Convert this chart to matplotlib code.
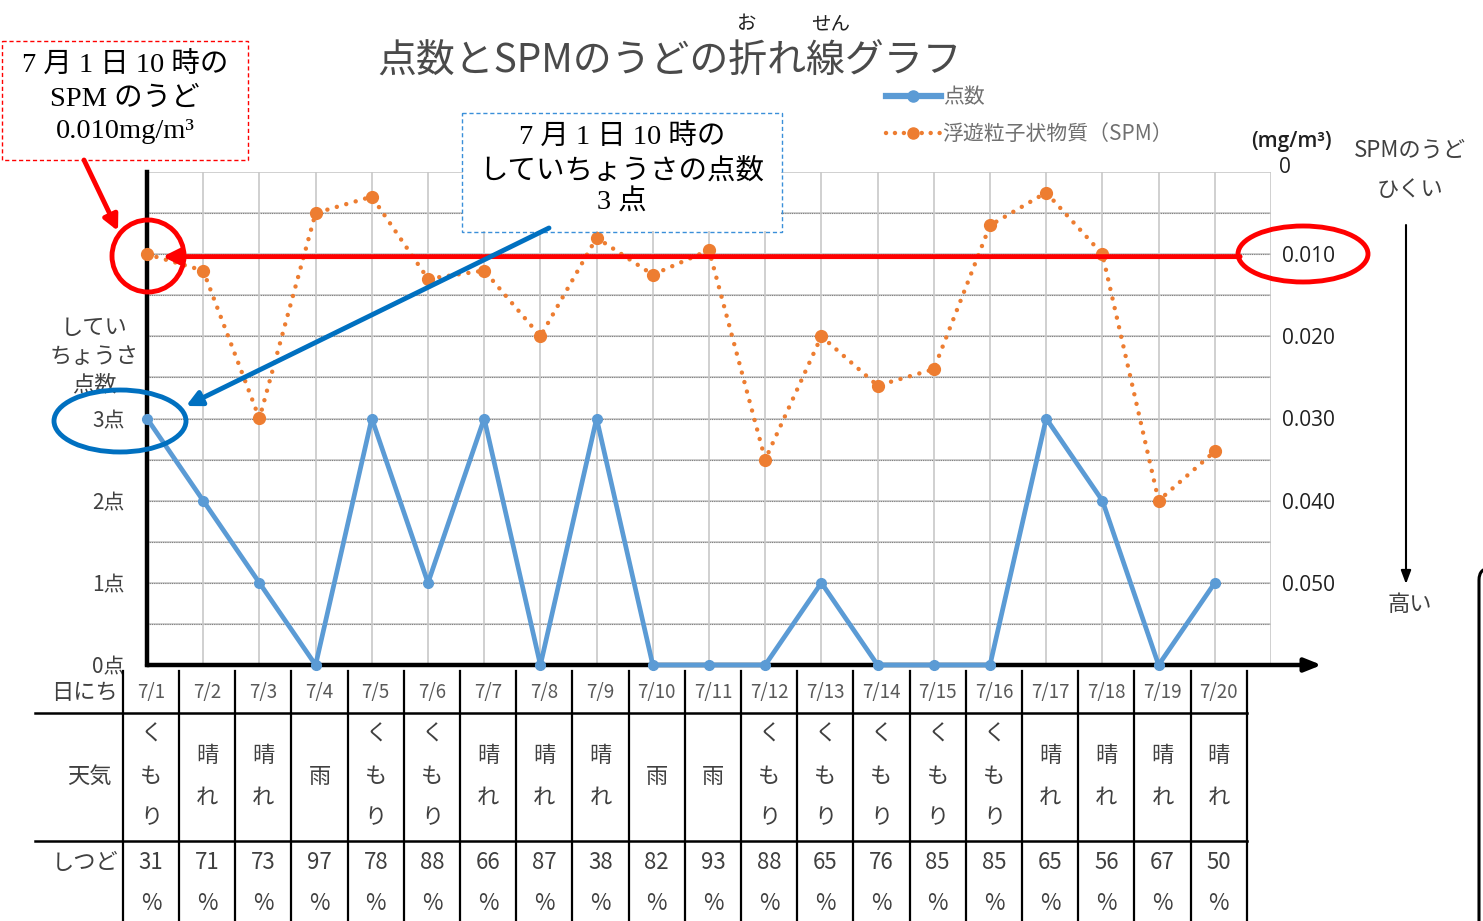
import matplotlib
matplotlib.use("Agg")
import matplotlib.pyplot as plt
from matplotlib.patches import Ellipse, FancyBboxPatch, Rectangle
from matplotlib.transforms import blended_transform_factory
from matplotlib.lines import Line2D

plt.rcParams['font.family'] = ['Noto Sans CJK JP', 'DejaVu Sans']

# ---- data ----
dates = ["7/1", "7/2", "7/3", "7/4", "7/5", "7/6", "7/7", "7/8", "7/9", "7/10",
         "7/11", "7/12", "7/13", "7/14", "7/15", "7/16", "7/17", "7/18", "7/19", "7/20"]
scores = [3, 2, 1, 0, 3, 1, 3, 0, 3, 0, 0, 0, 1, 0, 0, 0, 3, 2, 0, 1]
spm = [0.010, 0.012, 0.030, 0.005, 0.003, 0.013, 0.012, 0.020, 0.008, 0.0125,
       0.0095, 0.035, 0.020, 0.026, 0.024, 0.0065, 0.0025, 0.010, 0.040, 0.034]
weather = ["くもり", "晴れ", "晴れ", "雨", "くもり", "くもり", "晴れ", "晴れ", "晴れ", "雨",
           "雨", "くもり", "くもり", "くもり", "くもり", "くもり", "晴れ", "晴れ", "晴れ", "晴れ"]
humidity = [31, 71, 73, 97, 78, 88, 66, 87, 38, 82, 93, 88, 65, 76, 85, 85, 65, 56, 67, 50]
score_ticks = [0, 1, 2, 3]
score_labels = ["0点", "1点", "2点", "3点"]
spm_ticks = [0.0, 0.010, 0.020, 0.030, 0.040, 0.050]
spm_labels = ["0", "0.010", "0.020", "0.030", "0.040", "0.050"]
title = "点数とSPMのうどの折れ線グラフ"

W, H = 1483, 921
fig = plt.figure(figsize=(W / 100, H / 100), dpi=100)

BLUE = "#5B9BD5"
ORANGE = "#ED7D31"
GRAY_TXT = "#404040"
SERIF = ['Liberation Serif', 'Noto Sans CJK JP']
LATIN = ['Open Sans', 'DejaVu Sans']

# overlay in pixel coordinates (origin top-left) for annotations and table
ov = fig.add_axes([0, 0, 1, 1])
ov.set_xlim(0, W)
ov.set_ylim(H, 0)
ov.axis('off')

# main chart area
L, R, T, B = 147, 1271, 172, 665
ax = fig.add_axes([L / W, (H - B) / H, (R - L) / W, (B - T) / H], zorder=2)
ax.patch.set_alpha(0)
n = len(dates)
xs = list(range(n))
ax.set_xlim(0, 20)
ax.set_ylim(0, 6)

# grid
for yv in [i * 0.5 for i in range(1, 13)]:
    ax.axhline(yv, color="#C8C8C8", lw=1.2, zorder=1)
for yv in [0.5 * i for i in range(1, 12)]:
    ax.axhline(yv, color="#808080", lw=0.8, ls=(0, (1, 1)), zorder=1)
for xv in range(1, 21):
    ax.axvline(xv, color="#C8C8C8", lw=1.2, zorder=1)

ax.set_xticks([])
ax.set_yticks(score_ticks)
ax.set_yticklabels(score_labels, fontsize=15, color=GRAY_TXT)
ax.tick_params(axis='y', length=0, pad=16)
for s in ['top', 'right', 'bottom']:
    ax.spines[s].set_visible(False)
ax.spines['left'].set_linewidth(3.2)
ax.spines['left'].set_color('black')

# x axis with arrow
ax.annotate("", xy=(20.9, 0), xytext=(0, 0), xycoords='data',
            arrowprops=dict(arrowstyle='-|>,head_length=1.0,head_width=0.4',
                            color='black', lw=3.2, shrinkA=0, shrinkB=0),
            annotation_clip=False, zorder=5)

# score line
ax.plot(xs, scores, color=BLUE, lw=3.4, marker='o', ms=7, zorder=6,
        label="点数", clip_on=False)

# SPM line on inverted right axis
ax2 = ax.twinx()
ax2.set_ylim(0.06, 0.0)
ax2.set_zorder(3)
ax2.patch.set_alpha(0)
for s in ['top', 'right', 'bottom', 'left']:
    ax2.spines[s].set_visible(False)
ax2.set_yticks(spm_ticks[1:])
ax2.set_yticklabels(spm_labels[1:], fontsize=15, color="#202020", family=LATIN)
ax2.tick_params(axis='y', length=0, pad=8)
ax2.plot(xs, spm, color=ORANGE, lw=3.2, ls=(0, (0.01, 2.2)),
         dash_capstyle='round', marker='o', ms=8.5, zorder=6,
         label="浮遊粒子状物質（SPM）", clip_on=False)
ax2.text(1.0 + 8 / (R - L), spm_ticks[0] - 0.0005, spm_labels[0],
         transform=blended_transform_factory(ax2.transAxes, ax2.transData),
         ha='left', va='center', fontsize=15, color="#202020", family=LATIN)
ov.text(1291, 142, "(mg/m³)", fontsize=15, color="#202020", ha='center', va='center',
        family=LATIN, fontweight='semibold')

# reference line at 0.010 with arrow toward the first point
ax2.annotate("", xy=(0.28, 0.0103), xytext=(19.45, 0.0103),
             arrowprops=dict(arrowstyle='-|>,head_length=0.9,head_width=0.45',
                             color='#FF0000', lw=3.5, shrinkA=0, shrinkB=0),
             annotation_clip=False, zorder=8)

# legend
h1 = Line2D([], [], color=BLUE, lw=4.5, marker='o', ms=8)
h2 = Line2D([], [], color=ORANGE, lw=3.2, ls=(0, (0.01, 2.0)), dash_capstyle='round',
            marker='o', ms=8)
fig.legend([h1, h2], ["点数", "浮遊粒子状物質（SPM）"], loc='upper left',
           bbox_to_anchor=(878 / W, 1 - 78 / H), frameon=False, fontsize=15,
           labelcolor="#707070", handlelength=2.6, handletextpad=0.1,
           labelspacing=0.7, borderaxespad=0)

# title with ruby
ov.text(670, 62, title, fontsize=28, color="#4a4a4a", ha='center', va='center')
ov.text(747, 24, "お", fontsize=14, color="#202020", ha='center', va='center')
ov.text(831, 24, "せん", fontsize=14, color="#202020", ha='center', va='center')

# left axis caption
for txt, yy in [("してい", 327), ("ちょうさ", 356), ("点数", 385)]:
    ov.text(94, yy, txt, fontsize=16, color=GRAY_TXT, ha='center', va='center')

# right side direction note
ov.text(1410, 150, "SPMのうど", fontsize=16, color=GRAY_TXT, ha='center', va='center')
ov.text(1410, 190, "ひくい", fontsize=16, color=GRAY_TXT, ha='center', va='center')
ov.annotate("", xy=(1406, 584), xytext=(1406, 225),
            arrowprops=dict(arrowstyle='-|>,head_length=0.8,head_width=0.3',
                            color='black', lw=1.5, shrinkA=0, shrinkB=0))
ov.text(1410, 604, "高い", fontsize=16, color=GRAY_TXT, ha='center', va='center')

# overlay annotations sit above the chart
ov.set_zorder(4)
ov.patch.set_alpha(0)

# red callout
ov.add_patch(Rectangle((2, 41), 246, 119, fill=False, ec='#FF0000', lw=1.0, ls=(0, (3, 2))))
for txt, yy in [("7 月 1 日 10 時の", 66), ("SPM のうど", 99), ("0.010mg/m³", 131)]:
    ov.text(125, yy, txt, fontsize=20.5, family=SERIF, color='black', ha='center', va='center')
ov.annotate("", xy=(118, 231), xytext=(84, 160),
            arrowprops=dict(arrowstyle='-|>,head_length=0.9,head_width=0.45',
                            color='#FF0000', lw=3.5, shrinkA=0, shrinkB=0))
ov.add_patch(Ellipse((148, 256), 72, 72, fill=False, ec='#FF0000', lw=3.5, zorder=10))
ov.add_patch(Ellipse((1303, 254), 130, 56, fill=False, ec='#FF0000', lw=3.5, zorder=10))

# blue callout
ov.add_patch(Rectangle((462, 113), 320, 119, fill=False, ec='#3A8FD9', lw=1.0,
                       ls=(0, (3, 2)), zorder=9))
ov.add_patch(Rectangle((463, 114), 318, 117, fc='white', ec='none', zorder=8.5))
for txt, yy in [("7 月 1 日 10 時の", 138), ("していちょうさの点数", 171), ("3 点", 203)]:
    ov.text(622, yy, txt, fontsize=20.5, family=SERIF, color='black', ha='center',
            va='center', zorder=9)
ov.annotate("", xy=(186, 406), xytext=(549, 228),
            arrowprops=dict(arrowstyle='-|>,head_length=0.9,head_width=0.45',
                            color='#0070C0', lw=3.5, shrinkA=0, shrinkB=0), zorder=10)
ov.add_patch(Ellipse((120, 421), 132, 62, fill=False, ec='#0070C0', lw=3.5, zorder=10))

# table below the chart
tt = blended_transform_factory(ax.transData, ov.transData)
edges = [i - 0.43 for i in range(n + 1)]
row_y = [713, 841]
for yy in row_y:
    ov.plot([-2.0, edges[-1]], [yy, yy], color='black', lw=1.8, transform=tt, clip_on=False)
for e in edges:
    ov.plot([e, e], [671, 921], color='black', lw=1.6, transform=tt, clip_on=False)

ov.text(118, 692, "日にち", fontsize=16, color=GRAY_TXT, ha='right', va='center')
ov.text(112, 776, "天気", fontsize=16, color=GRAY_TXT, ha='right', va='center')
ov.text(118, 862, "しつど", fontsize=16, color=GRAY_TXT, ha='right', va='center')

for i in range(n):
    cx = (edges[i] + edges[i + 1]) / 2
    ov.text(cx, 692, dates[i], fontsize=13.5, color="#595959", ha='center', va='center',
            transform=tt)
    w = weather[i]
    k = len(w)
    step = 42
    y0 = 776 - (k - 1) * step / 2
    for j, ch in enumerate(w):
        ov.text(cx, y0 + j * step, ch, fontsize=16, color=GRAY_TXT, ha='center',
                va='center', transform=tt)
    ov.text(cx, 862, str(humidity[i]), fontsize=16, color=GRAY_TXT, ha='center',
            va='center', transform=tt)
    ov.text(cx, 903, "%", fontsize=16, color=GRAY_TXT, ha='center', va='center',
            transform=tt)

# partially visible frame at the right edge
ov.add_patch(FancyBboxPatch((1479, 568), 300, 400, boxstyle="round,pad=0,rounding_size=12",
                            fill=False, ec='black', lw=2.2, clip_on=True))

fig.savefig("out.png", dpi=100, facecolor='white')
